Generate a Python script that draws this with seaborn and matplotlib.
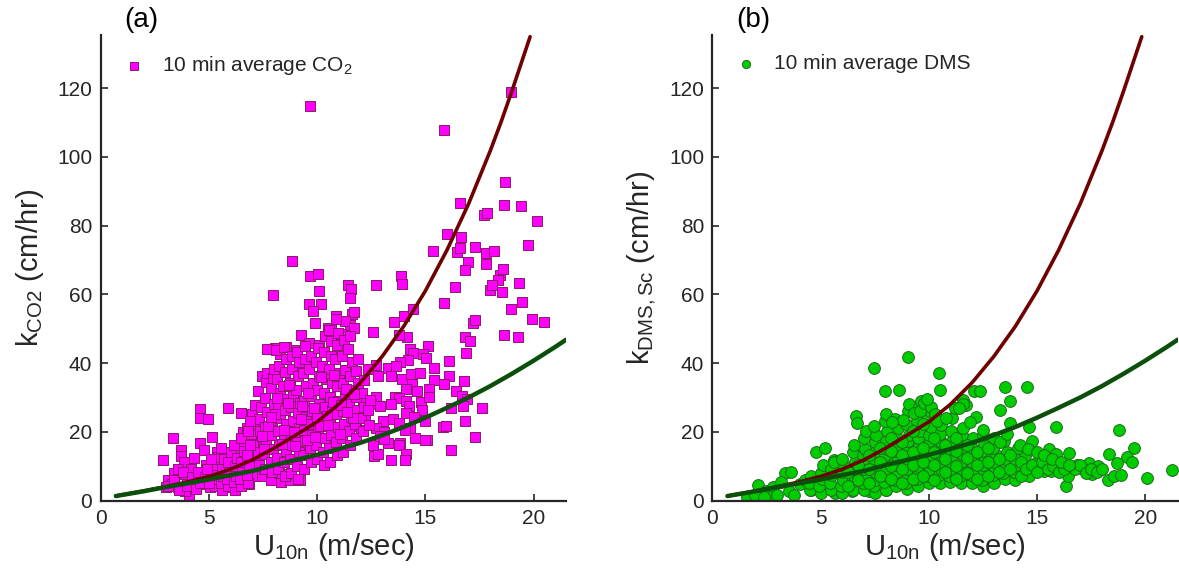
import numpy as np
import pandas as pd
import seaborn as sns
import matplotlib.pyplot as plt

# ---- fitted curves ----
red_u = [0.7, 2, 3, 4, 5, 6, 7, 8, 9, 10, 11, 12, 13, 14, 15, 16, 17, 18, 18.5, 19, 19.5, 19.84]
red_k = [1.3, 2.8, 4.0, 5.4, 7.0, 9.1, 11.8, 15.2, 19.0, 22.9, 28.0, 34.3, 41.9, 50.7, 61.0,
         72.9, 86.4, 101.8, 110.2, 119.2, 128.6, 135.0]
green_u = [0.7, 2, 3, 4, 5, 6, 7, 8, 9, 10, 11, 12, 13, 14, 15, 16, 17, 18, 19, 20, 21, 21.5]
green_k = [1.3, 2.7, 3.9, 5.0, 6.1, 7.4, 8.6, 10.3, 11.8, 13.3, 15.0, 16.8, 19.0, 21.4, 24.1,
           27.0, 30.0, 33.3, 36.9, 40.7, 44.7, 46.8]

# ---- panel (a): 10 min average CO2 ----
u_co2 = [
    9.67, 18.98, 15.86, 18.68, 16.59, 18.63, 19.41, 17.73, 17.85, 20.16, 16.0, 16.67, 15.37, 17.3,
    16.46, 16.6, 17.8, 18.16, 19.76, 16.95, 16.85, 17.8, 18.46, 18.37, 18.6, 16.38, 17.99, 18.1,
    18.54, 19.32, 15.86, 19.45, 18.98, 17.2, 17.3, 19.93, 20.5, 18.63, 19.29, 16.85, 17.04, 16.9,
    15.42, 16.07, 16.07, 16.78, 16.41, 15.39, 15.86, 16.7, 16.93, 16.76, 16.17, 17.64, 16.85, 15.8,
    15.94, 16.17, 17.3, 15.08,
    12.74, 13.86, 13.92, 14.0, 13.57, 14.42, 12.56, 14.16, 13.78, 15.11, 14.9, 15.04, 14.27, 14.45,
    14.18, 13.83, 13.26, 13.64, 13.43, 13.92, 14.35, 14.73, 14.38, 14.12, 14.6, 12.79, 12.74, 12.35,
    13.6, 13.78, 13.43, 14.12, 14.81, 14.85, 15.16, 15.16, 12.74, 12.48, 12.91, 13.03, 12.74, 13.07,
    13.5, 13.78, 14.25, 14.12, 14.47, 14.29, 14.07, 14.5, 15.0, 15.0, 13.26, 13.81, 13.78, 12.65,
    12.79, 13.43, 14.1, 14.05, 12.13, 12.0, 12.22, 11.79, 12.05, 12.56, 12.91, 13.08,
    8.84, 7.94, 9.67, 10.02, 10.1, 10.19, 9.62, 9.83, 9.91, 11.44, 11.56, 11.52, 11.59, 11.7, 11.52,
    9.27, 10.88, 10.49, 10.62, 11.27, 11.7, 11.09, 9.62, 10.1, 8.93, 8.58, 8.06, 7.68, 8.27,
    2.86, 3.34, 4.59, 4.59, 4.97, 5.89, 6.5, 5.16, 3.69, 3.73, 3.85, 3.99, 4.07, 3.9, 3.03, 3.12,
    3.38, 3.55, 3.29, 3.55, 3.9, 4.16, 4.33, 4.59, 4.77, 4.85, 4.42, 4.77, 5.03, 5.11, 5.2, 5.37,
    5.46, 5.63, 5.81, 5.98, 6.15, 6.24, 6.5, 6.59, 6.76, 6.67, 6.85, 7.1, 7.19, 7.37, 7.02, 7.45,
    7.54, 7.89, 8.32, 8.75, 9.19, 8.58, 8.23,
    6.9, 7.05, 6.95, 7.1, 7.0, 7.15,
    7.3, 7.25, 7.35, 7.3, 7.4, 7.28, 7.45,
    7.6, 7.55, 7.65, 7.6, 7.7, 7.58, 7.62, 7.68,
    7.9, 7.85, 7.95, 7.88, 7.92, 8.0, 7.86, 7.96, 8.02,
    8.2, 8.15, 8.25, 8.18, 8.28, 8.2, 8.3, 8.16, 8.24, 8.12,
    8.5, 8.45, 8.55, 8.48, 8.58, 8.5, 8.6, 8.44, 8.52, 8.56, 8.47,
    8.8, 8.75, 8.85, 8.78, 8.88, 8.8, 8.9, 8.74, 8.82, 8.86,
    9.1, 9.05, 9.15, 9.08, 9.18, 9.1, 9.2, 9.04, 9.12, 9.16, 9.07,
    9.4, 9.35, 9.45, 9.38, 9.48, 9.4, 9.5, 9.34, 9.42, 9.46,
    9.7, 9.65, 9.75, 9.68, 9.78, 9.7, 9.8, 9.64, 9.72,
    10.0, 9.95, 10.05, 9.98, 10.08, 10.0, 10.1, 9.94, 10.02,
    10.3, 10.25, 10.35, 10.28, 10.38, 10.3, 10.4, 10.24, 10.32, 10.36,
    10.6, 10.55, 10.65, 10.58, 10.68, 10.6, 10.7, 10.54, 10.62, 10.66, 10.57,
    10.9, 10.85, 10.95, 10.88, 10.98, 10.9, 11.0, 10.84, 10.92, 10.96, 10.87,
    11.2, 11.15, 11.25, 11.18, 11.28, 11.2, 11.3, 11.14, 11.22,
    11.5, 11.45, 11.55, 11.48, 11.58, 11.5, 11.6, 11.44, 11.52,
    11.8, 11.75, 11.85, 11.78, 11.88, 11.8, 11.9,
    12.1, 12.05, 12.15, 12.08, 12.18,
    12.4, 12.35, 12.45,
    5.3, 5.25, 5.35, 5.3, 5.4,
    5.6, 5.55, 5.65, 5.6, 5.7, 5.58,
    5.9, 5.85, 5.95, 5.9, 6.0,
    6.2, 6.15, 6.25, 6.2, 6.3, 6.18,
    6.5, 6.45, 6.55, 6.5, 6.6, 6.48,
    6.8, 6.75, 6.85, 6.78, 6.88, 6.8, 6.9,
    3.1, 3.4, 3.6, 3.8, 4.0, 4.2, 4.4, 4.5, 4.6, 4.8, 4.9, 5.0, 5.1,
    7.45, 7.75, 8.05, 8.4, 8.65, 8.95, 9.25, 9.55, 9.85, 10.15, 10.45, 10.75, 11.05, 11.35, 11.65,
    7.55, 7.85, 8.15, 8.45, 8.7, 9.0, 9.3, 9.6, 9.9, 10.2, 10.5, 10.8, 11.1, 11.4, 11.7,
]
k_co2 = [
    114.9, 118.9, 107.7, 92.6, 86.5, 86.0, 85.8, 83.1, 83.6, 81.3, 77.5, 76.6, 72.6, 73.9,
    72.3, 73.4, 72.0, 72.6, 74.4, 69.4, 67.2, 68.8, 65.5, 64.2, 67.4, 62.0, 61.3, 62.6,
    60.7, 63.4, 57.5, 57.9, 55.8, 51.8, 52.5, 52.9, 52.1, 48.2, 47.7, 47.7, 46.4, 42.8,
    38.5, 40.5, 36.1, 34.8, 31.8, 35.0, 33.8, 30.4, 29.4, 27.5, 27.0, 26.8, 23.2, 21.4,
    21.6, 14.8, 18.6, 17.6,
    62.6, 65.3, 63.1, 53.7, 52.0, 55.6, 49.1, 47.5, 48.2, 45.1, 42.6, 41.5, 44.2, 42.9,
    41.0, 40.2, 38.5, 39.1, 36.1, 35.3, 36.7, 37.2, 34.0, 32.4, 31.8, 36.1, 39.4, 38.3,
    30.2, 29.7, 28.0, 28.9, 28.8, 26.4, 32.4, 30.2, 30.2, 28.0, 27.5, 23.2, 21.0, 20.0,
    23.7, 22.7, 27.5, 25.4, 24.3, 21.0, 20.5, 18.3, 23.2, 17.6, 16.7, 16.7, 16.2, 12.9,
    13.5, 11.9, 13.5, 11.9, 29.1, 25.1, 24.3, 21.6, 20.5, 16.2, 18.9, 17.8,
    69.8, 59.9, 65.3, 65.8, 61.0, 57.2, 57.2, 55.3, 51.6, 62.6, 61.7, 59.0, 54.2, 55.0, 51.2,
    48.2, 53.7, 50.2, 50.2, 52.3, 50.2, 48.5, 45.8, 45.3, 43.7, 44.8, 44.4, 44.2, 42.6,
    11.9, 18.3, 26.6, 23.9, 23.7, 27.0, 25.6, 18.6, 14.6, 12.9, 11.3, 5.9, 1.6, 2.7, 3.8, 5.9,
    8.1, 9.2, 4.9, 3.8, 7.6, 9.2, 12.4, 16.7, 14.6, 10.2, 5.9, 4.9, 3.8, 7.0, 11.3, 14.0,
    9.2, 5.9, 3.8, 7.6, 11.3, 14.0, 16.7, 20.0, 21.0, 8.1, 4.9, 7.0, 12.4, 15.6, 18.3, 7.0,
    9.2, 5.9, 5.4, 5.9, 5.9, 7.6, 8.1,
    12.3, 16.1, 19.4, 22.2, 25.3, 27.8,
    10.4, 14.2, 20.1, 23.6, 27.3, 31.8, 36.2,
    9.1, 13.4, 17.2, 21.3, 25.8, 29.7, 34.6, 37.1,
    8.2, 11.3, 15.1, 19.2, 23.4, 28.1, 32.7, 35.8, 38.2,
    9.3, 12.4, 16.3, 20.2, 24.1, 27.4, 31.2, 35.3, 39.1, 43.8,
    7.2, 11.1, 14.3, 18.1, 22.3, 26.2, 29.4, 33.2, 37.3, 41.2, 44.6,
    8.1, 12.2, 16.3, 19.4, 23.1, 27.2, 30.4, 34.1, 38.3, 42.1,
    6.2, 10.1, 14.2, 18.3, 21.2, 25.4, 28.3, 32.2, 36.1, 40.3, 43.2,
    9.2, 13.1, 17.3, 20.4, 24.2, 29.1, 33.2, 37.1, 41.3, 45.1,
    11.2, 15.3, 19.1, 22.4, 26.1, 30.3, 34.2, 38.4, 42.1,
    12.1, 16.2, 20.3, 24.1, 28.2, 32.3, 36.1, 40.2, 44.3,
    10.2, 14.1, 18.3, 22.2, 27.1, 31.2, 35.3, 39.1, 43.2, 47.8,
    11.3, 15.2, 19.1, 23.3, 26.2, 30.1, 34.3, 38.2, 42.1, 46.3, 49.6,
    13.2, 17.1, 21.3, 25.2, 29.1, 33.3, 37.2, 41.1, 45.3, 48.7, 52.9,
    14.1, 18.2, 22.3, 26.1, 30.2, 34.3, 38.1, 42.2, 46.6,
    16.2, 20.1, 24.3, 28.2, 32.1, 36.3, 40.2, 44.1, 47.9,
    18.1, 22.3, 26.2, 30.1, 34.2, 37.8, 41.3,
    20.2, 24.1, 27.3, 31.2, 35.1,
    22.1, 26.2, 29.3,
    4.2, 6.3, 8.1, 10.2, 12.8,
    3.1, 5.2, 7.1, 9.3, 12.1, 15.2,
    4.3, 6.2, 8.3, 11.1, 14.2,
    3.2, 5.3, 7.2, 10.1, 12.3, 16.1,
    4.1, 6.3, 9.2, 11.1, 14.3, 18.2,
    5.2, 7.3, 10.1, 13.2, 16.3, 20.1, 23.2,
    4.2, 6.1, 3.2, 8.3, 4.1, 6.8, 3.3, 8.2, 5.1, 6.9, 9.3, 5.2, 12.2,
    18.7, 21.6, 25.1, 16.4, 28.3, 19.9, 23.8, 17.6, 26.9, 21.7, 24.5, 28.7, 19.3, 32.6, 23.9,
    14.9, 24.2, 29.8, 20.6, 33.5, 15.8, 27.4, 31.3, 18.4, 35.9, 21.9, 36.4, 27.8, 25.7, 31.1,
]

# ---- panel (b): 10 min average DMS ----
u_dms = [
    9.03, 7.47, 10.45, 13.54, 14.52, 8.63, 7.99, 10.5, 12.1, 12.36, 13.74, 11.58, 11.72, 13.28,
    13.74, 14.61, 15.88, 18.77, 6.64, 6.67, 4.78, 5.22, 16.46, 19.5, 19.15, 19.38, 18.34, 18.68,
    20.07, 21.25, 18.28, 18.56, 18.9, 16.34, 16.42, 16.6, 15.56, 15.86, 17.38, 17.82, 17.12, 17.56,
    16.86, 14.78, 15.39, 14.96, 16.0, 15.65, 15.3, 14.44, 14.61, 14.18, 14.26, 14.09, 14.44,
    1.61, 1.96, 2.13, 2.48, 2.82, 3.34, 3.64, 3.17, 3.52, 3.78, 4.04, 4.3, 4.56, 4.82, 5.08, 5.42,
    5.6, 5.77, 5.68, 6.46, 7.24, 8.02, 2.65, 3.0, 2.39,
    4.5, 4.45, 4.55,
    5.0, 4.95, 5.05, 5.0, 5.1,
    5.5, 5.45, 5.55, 5.5, 5.6,
    6.0, 5.95, 6.05, 6.0, 6.1, 5.98,
    6.5, 6.45, 6.55, 6.5, 6.6, 6.48, 6.56,
    7.0, 6.95, 7.05, 7.0, 7.1, 6.98, 7.06, 7.02, 7.08,
    7.5, 7.45, 7.55, 7.5, 7.6, 7.48, 7.56, 7.52, 7.58, 7.46,
    8.0, 7.95, 8.05, 8.0, 8.1, 7.98, 8.06, 8.02, 8.08, 7.96, 8.04,
    8.5, 8.45, 8.55, 8.5, 8.6, 8.48, 8.56, 8.52, 8.58, 8.46,
    9.0, 8.95, 9.05, 9.0, 9.1, 8.98, 9.06, 9.02, 9.08, 8.96, 9.04, 9.1,
    9.5, 9.45, 9.55, 9.5, 9.6, 9.48, 9.56, 9.52, 9.58, 9.46, 9.54, 9.62,
    10.0, 9.95, 10.05, 10.0, 10.1, 9.98, 10.06, 10.02, 10.08, 9.96, 10.04,
    10.5, 10.45, 10.55, 10.5, 10.6, 10.48, 10.56, 10.52, 10.58,
    11.0, 10.95, 11.05, 11.0, 11.1, 10.98, 11.06, 11.02, 11.08,
    11.5, 11.45, 11.55, 11.5, 11.6, 11.48, 11.56, 11.52, 11.58,
    12.0, 11.95, 12.05, 12.0, 12.1, 11.98, 12.06,
    12.5, 12.45, 12.55, 12.5, 12.6, 12.48, 12.56, 12.52,
    13.0, 12.95, 13.05, 13.0, 13.1, 12.98,
    13.5, 13.45, 13.55, 13.5, 13.6, 13.48,
    14.0, 13.95, 14.05, 14.0, 14.1,
    6.25, 6.25, 6.75, 6.75, 7.25, 7.25, 7.25, 7.75, 7.75, 7.75, 8.25, 8.25, 8.25, 8.25, 8.75,
    8.75, 8.75, 8.75, 9.25, 9.25, 9.25, 9.25, 9.75, 9.75, 9.75, 9.75, 10.25, 10.25, 10.25, 10.25,
    10.75, 10.75, 10.75, 11.25, 11.25, 11.25, 11.25, 11.75, 11.75, 11.75, 12.25, 12.25, 12.25,
    12.75, 12.75, 12.75, 13.25, 13.25, 13.75, 13.75, 14.25, 14.25, 14.5, 14.75, 15.0, 15.25, 15.5,
    15.75, 16.0, 16.25, 16.75, 17.0, 17.25, 17.5, 17.75, 18.0,
    9.3, 9.6, 9.8, 10.1, 10.3, 9.9, 10.4, 8.8, 8.3, 11.2, 11.6, 11.4, 10.8, 12.2, 11.9, 12.5,
    13.0, 13.3, 13.6, 14.2, 14.6, 15.0, 15.3, 15.7, 16.1, 16.5,
]
k_dms = [
    41.7, 38.5, 37.2, 33.1, 32.9, 32.1, 31.8, 32.1, 32.0, 32.0, 29.1, 29.3, 27.8, 26.2,
    22.7, 21.3, 21.3, 20.5, 24.5, 22.7, 14.2, 15.4, 13.7, 15.3, 12.6, 11.1, 13.5, 10.8,
    6.5, 8.8, 5.9, 7.0, 7.3, 4.3, 7.0, 9.7, 15.1, 13.5, 10.8, 10.0, 9.2, 7.6,
    10.2, 17.3, 12.4, 10.8, 9.7, 8.6, 8.6, 8.6, 7.0, 8.1, 14.6, 11.9, 12.9,
    1.1, 1.6, 4.5, 2.7, 3.8, 7.9, 8.3, 5.4, 2.7, 1.6, 4.9, 5.9, 3.2, 5.9, 7.0, 9.2,
    11.9, 11.5, 2.2, 2.7, 2.7, 3.2, 1.1, 1.6, 1.1,
    3.1, 5.2, 7.1,
    2.2, 4.1, 6.2, 8.1, 10.2,
    3.2, 5.1, 7.3, 9.1, 11.2,
    2.1, 4.2, 6.1, 8.3, 10.1, 12.2,
    3.1, 5.3, 7.2, 9.1, 11.3, 14.1, 16.2,
    3.2, 5.1, 7.3, 9.2, 11.1, 13.3, 15.1, 18.2, 20.1,
    2.1, 4.2, 6.1, 8.3, 10.2, 12.1, 14.3, 17.1, 19.2, 21.8,
    3.1, 5.3, 7.2, 9.1, 11.3, 13.2, 15.1, 17.3, 20.2, 23.1, 25.2,
    4.2, 6.1, 8.3, 10.2, 12.1, 14.3, 16.1, 18.2, 21.1, 23.8,
    3.3, 5.2, 7.1, 9.3, 11.2, 13.1, 15.3, 17.2, 19.1, 22.2, 26.1, 28.2,
    4.1, 6.3, 8.2, 10.1, 12.3, 14.2, 16.1, 18.3, 20.2, 23.1, 27.2, 29.1,
    5.2, 7.1, 9.3, 11.2, 13.1, 15.3, 17.2, 19.1, 21.3, 24.2, 26.1,
    5.1, 7.3, 9.2, 11.1, 13.3, 15.2, 17.1, 19.3, 22.1,
    5.3, 7.2, 9.1, 11.3, 13.2, 15.1, 17.3, 20.2, 24.1,
    5.2, 7.1, 9.3, 11.2, 13.1, 15.3, 17.2, 19.1, 21.2,
    5.1, 7.3, 9.2, 11.1, 13.3, 15.2, 18.1,
    4.2, 6.1, 8.3, 10.2, 12.1, 14.3, 16.2, 19.1,
    5.1, 7.3, 9.2, 11.1, 13.3, 15.2,
    6.2, 8.1, 10.3, 12.2, 14.1, 17.3,
    6.1, 8.3, 10.2, 12.1, 15.2,
    4.3, 8.2, 6.1, 10.3, 5.2, 9.3, 13.1, 7.2, 11.3, 15.2, 6.2, 10.1, 14.3, 18.2, 5.1,
    9.2, 13.3, 17.1, 6.3, 10.2, 14.1, 20.3, 7.2, 11.1, 15.3, 22.2, 6.1, 10.3, 14.2, 18.1,
    8.2, 12.1, 16.3, 6.2, 10.1, 14.3, 18.2, 8.1, 12.3, 16.2, 6.3, 10.2, 14.1,
    7.1, 11.2, 15.3, 8.2, 12.1, 9.1, 13.2, 7.2, 11.3, 9.1, 10.2, 8.3, 11.1, 9.2,
    10.1, 8.2, 9.3, 9.1, 10.2, 8.1, 9.2, 8.3, 9.1,
    25.6, 26.1, 28.3, 27.2, 25.3, 29.5, 23.2, 23.5, 22.8, 26.8, 28.1, 26.9, 24.1, 24.3, 22.8, 20.4,
    18.2, 17.1, 19.3, 16.2, 15.1, 14.2, 13.1, 12.2, 11.3, 10.4,
]

tick_vals_x = [0, 5, 10, 15, 20]
tick_vals_y = [0, 20, 40, 60, 80, 100, 120]

sns.set_theme(style="ticks")
plt.rcParams['font.family'] = ['Liberation Sans', 'DejaVu Sans']
plt.rcParams['mathtext.fontset'] = 'custom'
plt.rcParams['mathtext.rm'] = 'Liberation Sans'
plt.rcParams['mathtext.it'] = 'Liberation Sans:italic'

dark = '#262626'
fig = plt.figure(figsize=(11.79, 5.83), dpi=100)
ax1 = fig.add_axes([0.0854, 0.1415, 0.3947, 0.7985])
ax2 = fig.add_axes([0.6042, 0.1415, 0.3947, 0.7985])

panels = [
    (ax1, u_co2, k_co2, 's', '#FF00FF', '#8B1A6B', 54, r'10 min average CO$_{\mathregular{2}}$',
     r'k$_{\mathregular{CO2}}$ (cm/hr)', '(a)'),
    (ax2, u_dms, k_dms, 'o', '#00CC00', '#1E6B1E', 72, '10 min average DMS',
     r'k$_{\mathregular{DMS,Sc}}$ (cm/hr)', '(b)'),
]

for ax, u, k, mk, fc, ec, size, lab, ylab, tag in panels:
    df = pd.DataFrame({'u': u, 'k': k})
    sns.scatterplot(data=df, x='u', y='k', marker=mk, s=size, color=fc, edgecolor=ec,
                    linewidth=0.7, ax=ax, label=lab, zorder=2)
    sns.lineplot(x=red_u, y=red_k, color='#6E0000', lw=2.6, ax=ax, zorder=3, legend=False)
    sns.lineplot(x=green_u, y=green_k, color='#0B4F0B', lw=3.2, ax=ax, zorder=4, legend=False)

    ax.set_xlim(0, 21.5)
    ax.set_ylim(0, 135.5)
    ax.set_xticks(tick_vals_x)
    ax.set_yticks(tick_vals_y)
    ax.tick_params(direction='in', length=5, width=1.2, colors=dark, labelsize=15, pad=6)
    for s in ['left', 'bottom']:
        ax.spines[s].set_color(dark)
        ax.spines[s].set_linewidth(1.6)
    sns.despine(ax=ax)
    ax.set_xlabel(r'U$_{\mathregular{10n}}$ (m/sec)', fontsize=21, color=dark, labelpad=2)
    ax.set_ylabel(ylab, fontsize=21, color=dark, labelpad=8)
    ax.text(0.087, 1.032, tag, transform=ax.transAxes, ha='center', va='center',
            fontsize=20, color='black')

    h, l = ax.get_legend_handles_labels()
    ax.legend(h[:1], l[:1], loc='upper left', bbox_to_anchor=(0.0, 0.985), frameon=False,
              fontsize=15, markerscale=0.7, handletextpad=0.35, borderaxespad=0.2)

fig.savefig('out.png', dpi=100)
